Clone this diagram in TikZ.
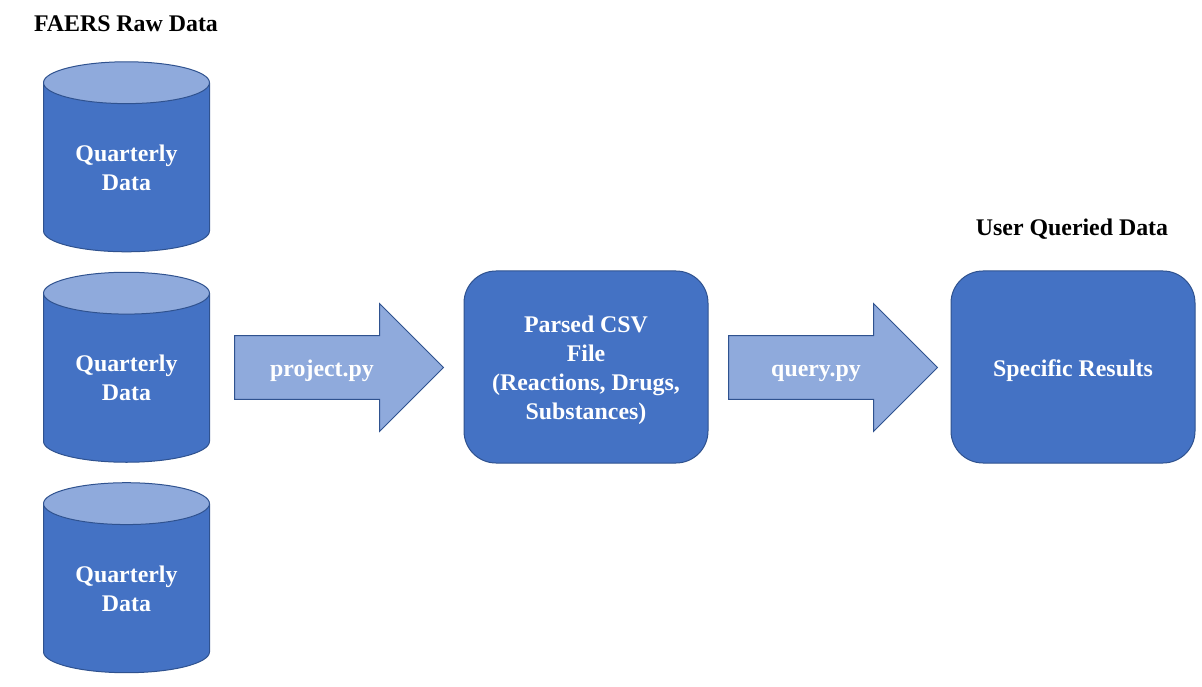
\documentclass[tikz,border=0pt]{standalone}
\usepackage{fontspec}
\setmainfont{Liberation Serif}
\usetikzlibrary{positioning,shapes.geometric,shapes.arrows}
\definecolor{fillblue}{HTML}{4472C4}
\definecolor{lightblue}{HTML}{8FAADC}
\definecolor{edgeblue}{HTML}{2F528F}
\newcommand{\toppad}[1]{\rule{0pt}{#1}}
\tikzset{txt/.style={font=\fontsize{17.9pt}{21.75pt}\selectfont\bfseries, align=center, inner sep=0pt},
  store/.style={txt, text=white, draw=edgeblue, line width=0.75pt, shape=cylinder, shape border rotate=90, aspect=0.41,
    cylinder uses custom fill, cylinder body fill=fillblue, cylinder end fill=lightblue,
    minimum width=124.5pt, minimum height=142.5pt},
  blk/.style={txt, text=white, draw=edgeblue, fill=fillblue, line width=0.75pt, rounded corners=24pt,
    minimum width=183pt, minimum height=144pt},
  flow/.style={draw=edgeblue, fill=lightblue, line width=0.75pt, shape=single arrow, anchor=tail,
    inner xsep=0pt, inner ysep=23.6pt, single arrow head extend=24pt, single arrow tip angle=90,
    minimum height=156.75pt},
  flowtxt/.style={txt, text=white, text height=12pt, text depth=4pt}}

\begin{document}
\begin{tikzpicture}[x=0.75pt,y=0.75pt]
  \useasboundingbox (0,0) rectangle (1202,686);
  % raw data
  \node[txt] (rawtitle) at (126,662) {FAERS Raw Data};
  \node[store] (store1) at (126.5,518.5) {Quarterly\\Data};
  \node[store, below=14.6pt of store1] (store2) {Quarterly\\Data};
  \node[store, below=14.6pt of store2] (store3) {Quarterly\\Data};
  % parsing
  \node[flow] (projarrow) at (234,318.5) {};
  \node[flowtxt] (projlabel) at ([xshift=66pt,yshift=-2.5pt]projarrow.tail) {project.py};
  \node[blk] (parsed) at (586,319) {\toppad{16.6pt}Parsed CSV\\File\\(Reactions, Drugs,\\Substances)};
  % query
  \node[flow] (queryarrow) at (728,318.5) {};
  \node[flowtxt] (querylabel) at ([xshift=66pt,yshift=-2.5pt]queryarrow.tail) {query.py};
  \node[blk] (results) at (1073,319) {\toppad{18.3pt}Specific Results};
  \node[txt] (usertitle) at (1072,457) {User Queried Data};
\end{tikzpicture}
\end{document}
